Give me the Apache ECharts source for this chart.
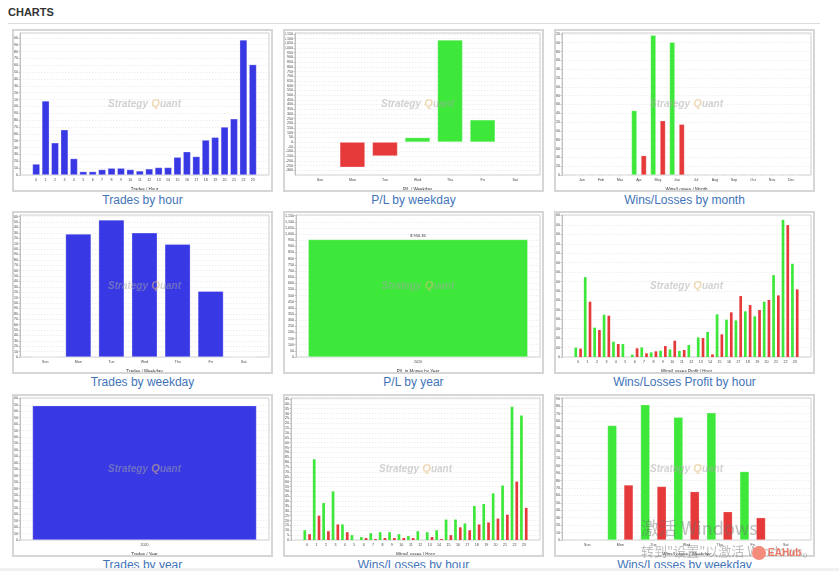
<!DOCTYPE html>
<html>
<head>
<meta charset="utf-8">
<script src="https://cdn.jsdelivr.net/npm/echarts@6/dist/echarts.min.js"></script>
<style>
  body { margin: 0; width: 839px; height: 571px; overflow: hidden; position: relative; background: #fff; font-family: Arial, "Liberation Sans", sans-serif; }
  .hdr { position: absolute; left: 8px; top: 6px; font-weight: bold; font-size: 11px; color: #333; }
  .sep { position: absolute; left: 8px; top: 23px; width: 812px; height: 1px; background: #ddd; }
  .panel { position: absolute; width: 261px; height: 163px; box-sizing: border-box; border: 2px solid #d6d6d6; background: #fff; }
  .chart { position: absolute; left: 0; top: 0; width: 257px; height: 159px; }
  .ttl { position: absolute; width: 261px; text-align: center; font-size: 12px; line-height: 14px; color: #3f74b9; }
  .foot { position: absolute; left: 0; top: 568px; width: 839px; height: 3px; background: #f0f0f0; }
  .win1 { position: absolute; left: 641px; top: 514px; font-size: 18px; color: rgba(110,110,110,0.45); font-family: "Noto Sans CJK SC", sans-serif; }
  .win2 { position: absolute; left: 641px; top: 541px; font-size: 13px; color: rgba(110,110,110,0.45); font-family: "Noto Sans CJK SC", sans-serif; }
  .eahub { position: absolute; left: 752px; top: 546px; font-size: 10px; font-weight: bold; color: #f07a6a; }
  .eahub i { display: inline-block; width: 14px; height: 14px; border-radius: 7px; background: #f58b7a; vertical-align: middle; margin-right: 2px; }
</style>
</head>
<body>
<div class="hdr">CHARTS</div>
<div class="sep"></div>
<div id="wrap"></div>
<div class="foot"></div>
<div class="win1">激活 Windows</div>
<div class="win2">转到"设置"以激活 Windows。</div>
<div class="eahub"><i></i>EAHub</div>
<script>
// ---- data ----
const hours = ['0','1','2','3','4','5','6','7','8','9','10','11','12','13','14','15','16','17','18','19','20','21','22','23'];
const weekdays = ['Sun','Mon','Tue','Wed','Thu','Fri','Sat'];
const months = ['Jan','Feb','Mar','Apr','May','Jun','Jul','Aug','Sep','Oct','Nov','Dec'];
const years = ['2020'];

const tradesByHour = [16,108,47,66,24,5,5,8,10,10,8,6,9,11,11,26,34,27,51,55,70,82,197,161];
const plByWeekday = [0,-268,-148,48,1087,237,0];
const winsByMonth = [0,0,0,146,317,301,0,0,0,0,0,0];
const lossesByMonth = [0,0,0,44,123,115,0,0,0,0,0,0];
const tradesByWeekday = [0,228,254,230,209,122,0];
const plByYear = [956.36];
const winProfitByHour = [99,847,311,448,162,138,25,102,49,67,81,64,127,208,265,452,395,388,484,431,586,868,1454,988];
const lossProfitByHour = [88,586,286,438,138,0,92,39,60,116,173,74,0,201,28,240,473,646,551,498,604,653,1398,717];
const tradesByYear = [1044];
const winsByHour = [10,83,38,50,16,5,3,7,8,8,6,4,9,8,10,21,21,17,35,37,48,56,137,128];
const lossesByHour = [6,25,9,16,8,0,2,1,2,2,2,2,0,3,1,5,13,10,16,18,22,26,60,33];
const winsByWeekday = [0,154,182,165,171,92,0];
const lossesByWeekday = [0,74,72,65,38,30,0];

const BLUE = '#3838e4', GREEN = '#3ee83b', RED = '#e63939';
const colX = [12, 283, 554], rowY = [29, 211, 394];
const CW = 257, CH = 159, TOP = 2, BOTTOM = 15, RIGHT = 2;

function withComma(v) { return String(v).replace(/\B(?=(\d{3})+(?!\d))/g, ','); }

// category layout like the original renderer: 5% margins, 20% category gap, 20% item gap
function catLayout(plotW, n) {
  const W = plotW * 0.9;
  const w = n > 1 ? 0.8 * W / n : W;
  const g = n > 1 ? 0.2 * W / (n - 1) : 0;
  return { inset: plotW * 0.05 - g / 2, w: w, gap: (g / (w + g) * 100) + '%' };
}

function makeChart(col, row, title, o) {
  const panel = document.createElement('div');
  panel.className = 'panel';
  panel.style.left = colX[col] + 'px';
  panel.style.top = rowY[row] + 'px';
  const el = document.createElement('div');
  el.className = 'chart';
  panel.appendChild(el);
  document.getElementById('wrap').appendChild(panel);
  const t = document.createElement('div');
  t.className = 'ttl';
  t.style.left = colX[col] + 'px';
  t.style.top = (rowY[row] + 164) + 'px';
  t.textContent = title;
  document.getElementById('wrap').appendChild(t);

  const left = o.left || 6;
  const plotW = CW - left - RIGHT;
  const L = catLayout(plotW, o.cats.length);
  const border = { borderColor: 'rgba(255,255,255,0.45)', borderWidth: 0.6 };
  let series;
  if (o.pair) {
    const bw = L.w * 0.36;
    series = o.pair.map((d, i) => ({
      type: 'bar', data: d, xAxisIndex: 1, yAxisIndex: 1,
      barWidth: bw, barGap: (0.28 / 0.36 * 100) + '%',
      itemStyle: Object.assign({ color: i ? RED : GREEN }, border, { borderWidth: bw > 4 ? 0.5 : 0 })
    }));
  } else {
    series = [{
      type: 'bar', data: o.data, xAxisIndex: 1, yAxisIndex: 1, barCategoryGap: L.gap,
      itemStyle: Object.assign({ color: o.color }, border),
      label: o.label
    }];
  }
  const yRange = { min: o.min || 0, max: o.max, interval: o.step };
  const chart = echarts.init(el, null, { renderer: 'canvas' });
  chart.setOption({
    animation: false,
    grid: [
      { left: left, right: RIGHT, top: TOP, bottom: BOTTOM, show: true, borderColor: '#cfcfcf', borderWidth: 1, outerBoundsMode: 'none' },
      { left: left + L.inset, right: RIGHT + L.inset, top: TOP, bottom: BOTTOM, outerBoundsMode: 'none' }
    ],
    xAxis: [
      { gridIndex: 0, type: 'value', show: false },
      {
        gridIndex: 1, type: 'category', data: o.cats, name: o.xname, nameLocation: 'middle', nameGap: 8,
        nameTextStyle: { fontSize: 4.5, color: '#333' },
        axisLine: { show: false }, axisTick: { show: false },
        axisLabel: { fontSize: 3.6, color: '#444', margin: 3, interval: 0 }
      }
    ],
    yAxis: [
      Object.assign({
        gridIndex: 0, type: 'value',
        axisLine: { show: true, lineStyle: { color: '#c0c0c0' } },
        axisTick: { show: true, length: 1.5, lineStyle: { color: '#c0c0c0' } },
        axisLabel: { fontSize: 3.6, color: '#444', margin: 2, formatter: o.fmt, showMaxLabel: !o.padTop, showMinLabel: !o.padBottom },
        splitLine: { lineStyle: { color: '#e4e4e4', width: 0.6, type: [1.5, 1.5] } }
      }, yRange),
      Object.assign({ gridIndex: 1, type: 'value', show: false, splitLine: { show: false } }, yRange)
    ],
    graphic: [{
      type: 'text', silent: true,
      x: (left + CW - RIGHT) / 2, y: (TOP + CH - BOTTOM) / 2,
      style: {
        text: '{a|Strategy} {b|Q}{a|uant}', align: 'center', verticalAlign: 'middle',
        rich: {
          a: { fontSize: 10, fontStyle: 'italic', fontWeight: 'bold', fill: 'rgba(165,165,165,0.5)', fontFamily: 'Arial' },
          b: { fontSize: 11, fontStyle: 'italic', fontWeight: 'bold', fill: 'rgba(225,185,120,0.55)', fontFamily: 'Arial' }
        }
      },
      z: 100
    }],
    series: series
  });
}

makeChart(0, 0, 'Trades by hour', {
  cats: hours, xname: 'Trades / Hour', max: 207, step: 10, padTop: true,
  data: tradesByHour, color: BLUE
});

makeChart(1, 0, 'P/L by weekday', {
  cats: weekdays, xname: 'P/L / Weekday', min: -350, max: 1160, step: 50, left: 10, padTop: true, padBottom: true,
  data: plByWeekday, color: p => p.value < 0 ? RED : GREEN
});

makeChart(2, 0, 'Wins/Losses by month', {
  cats: months, xname: 'Wins/Losses / Month', max: 322, step: 20, padTop: true,
  pair: [winsByMonth, lossesByMonth]
});

makeChart(0, 1, 'Trades by weekday', {
  cats: weekdays, xname: 'Trades / Weekday', max: 263, step: 10, padTop: true,
  data: tradesByWeekday, color: BLUE
});

makeChart(1, 1, 'P/L by year', {
  cats: years, xname: 'P/L in Money by Year', max: 1155, step: 50, left: 11, fmt: withComma, padTop: true,
  data: plByYear, color: GREEN,
  label: { show: true, position: 'top', fontSize: 4, color: '#333', distance: 2, formatter: p => '$ ' + p.value.toFixed(2) }
});

makeChart(2, 1, 'Wins/Losses Profit by hour', {
  cats: hours, xname: 'Wins/Losses Profit / Hour', max: 1505, step: 100, padTop: true,
  pair: [winProfitByHour, lossProfitByHour]
});

makeChart(0, 2, 'Trades by year', {
  cats: years, xname: 'Trades / Year', max: 1103, step: 50, padTop: true,
  data: tradesByYear, color: BLUE
});

makeChart(1, 2, 'Wins/Losses by hour', {
  cats: hours, xname: 'Wins/Losses / Hour', max: 146, step: 5, padTop: true,
  pair: [winsByHour, lossesByHour]
});

makeChart(2, 2, 'Wins/Losses by weekday', {
  cats: weekdays, xname: 'Wins/Losses / Weekday', max: 191, step: 10, padTop: true,
  pair: [winsByWeekday, lossesByWeekday]
});
</script>
</body>
</html>
